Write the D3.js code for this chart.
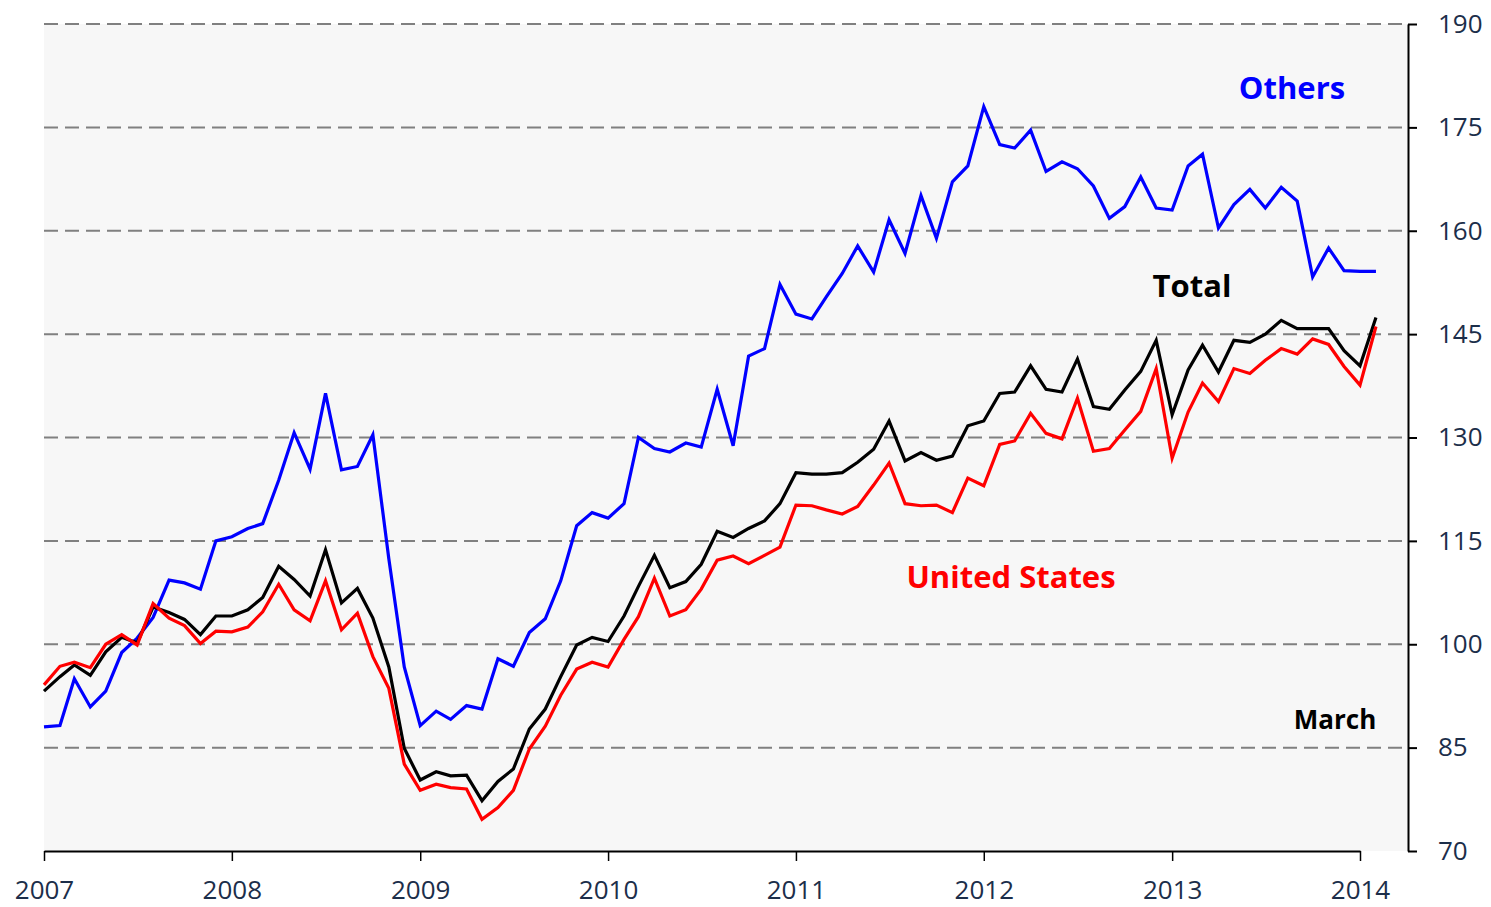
<!DOCTYPE html>
<html>
<head>
<meta charset="utf-8">
<script src="https://cdn.jsdelivr.net/npm/d3@7"></script>
<style>
  body { margin: 0; background: #ffffff; }
  .frame { display: block; }
</style>
</head>
<body>
<div id="vis"></div>
<script>
// monthly index values, Jan 2007 to Feb 2014

const START_YEAR = 2007;
const YEAR_TICKS = [2007, 2008, 2009, 2010, 2011, 2012, 2013, 2014];
const Y_TICKS = [70, 85, 100, 115, 130, 145, 160, 175, 190];

const OTHERS = [88.0, 88.2, 95.0, 90.9, 93.2, 98.8, 100.9, 103.9, 109.3, 108.9, 108.0, 115.0,
  115.6, 116.8, 117.5, 123.8, 130.7, 125.4, 136.4, 125.3, 125.8, 130.4, 112.4, 96.7,
  88.2, 90.3, 89.1, 91.1, 90.6, 97.9, 96.8, 101.7, 103.7, 109.2, 117.2, 119.1,
  118.3, 120.4, 130.0, 128.4, 127.9, 129.2, 128.6, 137.0, 128.8, 141.8, 142.9, 152.2,
  147.9, 147.2, 150.4, 153.8, 157.8, 154.0, 161.6, 156.7, 165.1, 158.9, 167.1, 169.4,
  178.0, 172.5, 172.0, 174.6, 168.6, 170.0, 169.0, 166.5, 161.8, 163.5, 167.8, 163.3,
  163.0, 169.4, 171.1, 160.4, 163.8, 166.0, 163.3, 166.3, 164.3, 153.3, 157.5, 154.2,
  154.1, 154.1];

const TOTAL = [93.2, 95.3, 97.0, 95.5, 98.9, 101.0, 100.2, 105.4, 104.6, 103.6, 101.4, 104.1,
  104.1, 105.0, 106.8, 111.3, 109.4, 107.0, 113.7, 106.0, 108.1, 103.8, 96.7, 84.9,
  80.3, 81.5, 80.9, 81.0, 77.3, 80.1, 81.9, 87.7, 90.6, 95.3, 99.9, 101.0,
  100.4, 104.1, 108.4, 112.9, 108.2, 109.1, 111.6, 116.4, 115.5, 116.8, 117.9, 120.4,
  124.9, 124.7, 124.7, 124.9, 126.4, 128.3, 132.4, 126.6, 127.8, 126.7, 127.3, 131.7,
  132.4, 136.4, 136.6, 140.4, 137.0, 136.6, 141.4, 134.5, 134.1, 136.9, 139.6, 144.1,
  133.3, 139.8, 143.4, 139.5, 144.1, 143.8, 145.0, 147.0, 145.8, 145.8, 145.8, 142.6,
  140.4, 147.4];

const UNITED_STATES = [94.1, 96.8, 97.4, 96.6, 100.0, 101.4, 99.9, 105.9, 103.8, 102.7, 100.1, 101.9,
  101.8, 102.5, 104.7, 108.7, 105.0, 103.4, 109.2, 102.1, 104.5, 98.2, 93.6, 82.6,
  78.8, 79.7, 79.2, 79.0, 74.6, 76.3, 78.8, 84.8, 88.1, 92.6, 96.4, 97.4,
  96.7, 100.7, 104.0, 109.6, 104.1, 105.0, 108.0, 112.2, 112.8, 111.7, 112.9, 114.1,
  120.2, 120.1, 119.5, 118.9, 120.0, 123.1, 126.3, 120.4, 120.1, 120.2, 119.1, 124.1,
  123.0, 129.0, 129.5, 133.5, 130.6, 129.8, 135.7, 128.0, 128.4, 131.1, 133.8, 140.0,
  127.0, 133.7, 137.9, 135.2, 140.0, 139.3, 141.2, 142.9, 142.1, 144.3, 143.5, 140.3,
  137.6, 146.1];

const SERIES = [
  {name: "Others", values: OTHERS, color: "#0000ff"},
  {name: "Total", values: TOTAL, color: "#000000"},
  {name: "United States", values: UNITED_STATES, color: "#ff0000"}
];

// frame
const FRAME_HEIGHT = 907;
const FRAME_WIDTH = 1491;
const MARGINS = {left: 44, right: 83, top: 24, bottom: 56};

const VIS_HEIGHT = FRAME_HEIGHT - MARGINS.top - MARGINS.bottom;
const VIS_WIDTH = FRAME_WIDTH - MARGINS.left - MARGINS.right;

const FRAME1 = d3.select("#vis")
                  .append("svg")
                    .attr("height", FRAME_HEIGHT)
                    .attr("width", FRAME_WIDTH)
                    .attr("class", "frame");

const X_SCALE = d3.scaleTime()
                  .domain([new Date(2007, 0, 1), new Date(2014, 0, 1)])
                  .range([0, 1316]);

const Y_SCALE = d3.scaleLinear()
                  .domain([70, 190])
                  .range([VIS_HEIGHT, 0]);

const monthDate = (i) => new Date(START_YEAR, i, 1);

const G = FRAME1.append("g")
                .attr("transform", "translate(" + MARGINS.left + "," + MARGINS.top + ")");

// plot background
G.append("rect")
  .attr("x", 0)
  .attr("y", 0)
  .attr("width", VIS_WIDTH)
  .attr("height", VIS_HEIGHT)
  .attr("fill", "#f7f7f7");

// dashed gridlines
G.selectAll(".grid")
  .data(Y_TICKS.filter(d => d !== 70))
  .enter()
  .append("line")
    .attr("class", "grid")
    .attr("x1", 0)
    .attr("x2", VIS_WIDTH)
    .attr("y1", d => Y_SCALE(d))
    .attr("y2", d => Y_SCALE(d))
    .attr("stroke", "#808080")
    .attr("stroke-width", 2)
    .attr("stroke-dasharray", "14,7");

// lines
const LINE = d3.line()
               .x((d, i) => X_SCALE(monthDate(i)))
               .y(d => Y_SCALE(d));

G.selectAll(".series")
  .data(SERIES)
  .enter()
  .append("path")
    .attr("class", "series")
    .attr("d", d => LINE(d.values))
    .attr("fill", "none")
    .attr("stroke", d => d.color)
    .attr("stroke-width", 3.2)
    .attr("stroke-linejoin", "miter");

// x axis
const X_AXIS = G.append("g")
  .attr("transform", "translate(0," + VIS_HEIGHT + ")")
  .call(d3.axisBottom(X_SCALE)
          .tickValues(YEAR_TICKS.map(y => new Date(y, 0, 1)))
          .tickFormat(d3.timeFormat("%Y"))
          .tickSize(10)
          .tickSizeOuter(0)
          .tickPadding(20));

X_AXIS.select(".domain").attr("stroke", "#000").attr("stroke-width", 2);
X_AXIS.selectAll(".tick line").attr("stroke", "#000").attr("stroke-width", 1.5);
X_AXIS.selectAll("text")
  .attr("font-family", "'Open Sans', sans-serif")
  .attr("font-size", "26px")
  .attr("fill", "#1c2e4a");

// right y axis
const Y_AXIS = G.append("g")
  .attr("transform", "translate(" + VIS_WIDTH + ",0)")
  .call(d3.axisRight(Y_SCALE)
          .tickValues(Y_TICKS)
          .tickSize(9)
          .tickSizeOuter(0)
          .tickPadding(21));

Y_AXIS.select(".domain").attr("stroke", "#000").attr("stroke-width", 2);
Y_AXIS.selectAll(".tick line").attr("stroke", "#000").attr("stroke-width", 2);
Y_AXIS.selectAll("text")
  .attr("font-family", "'Open Sans', sans-serif")
  .attr("font-size", "26px")
  .attr("fill", "#1c2e4a");

// series labels
const LABELS = [
  {text: "Others", x: 1292, y: 99, color: "#0000ff", size: 31},
  {text: "Total", x: 1192, y: 297, color: "#000000", size: 31},
  {text: "United States", x: 1011, y: 588, color: "#ff0000", size: 31},
  {text: "March", x: 1335, y: 729, color: "#000000", size: 26}
];

FRAME1.selectAll(".label")
  .data(LABELS)
  .enter()
  .append("text")
    .attr("class", "label")
    .attr("x", d => d.x)
    .attr("y", d => d.y)
    .attr("text-anchor", "middle")
    .attr("font-family", "'Open Sans', sans-serif")
    .attr("font-weight", "bold")
    .attr("font-size", d => d.size + "px")
    .attr("fill", d => d.color)
    .text(d => d.text);
</script>
</body>
</html>
